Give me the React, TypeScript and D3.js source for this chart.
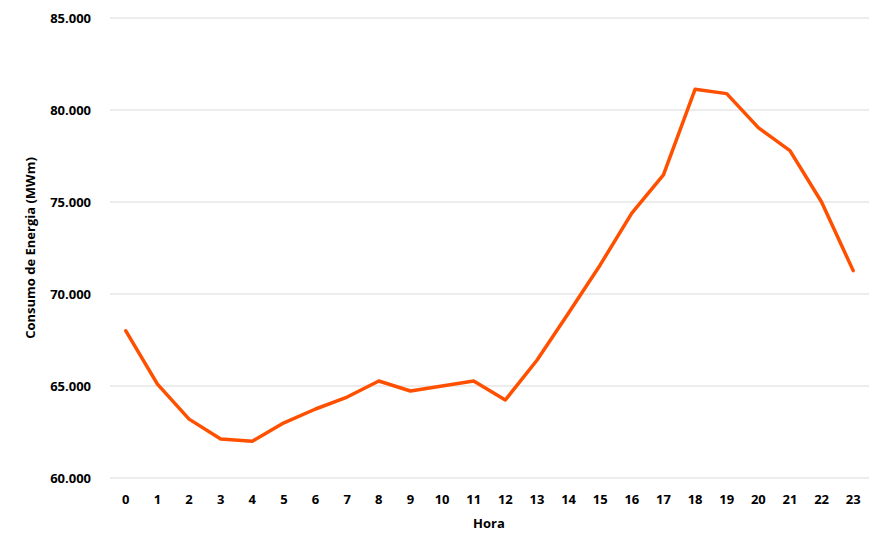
import React from "react";
import * as d3 from "d3";

const hours = Array.from({ length: 24 }, (_, i) => String(i));
const consumo = [
  68000, 65100, 63200, 62120, 62000, 63000, 63750, 64400, 65270, 64730, 65000, 65270,
  64240, 66400, 68970, 71580, 74400, 76470, 81125, 80890, 79040, 77790, 75000, 71270,
];
const yTicks = [60000, 65000, 70000, 75000, 80000, 85000];

const W = 887;
const H = 550;
const left = 110;
const right = 869;
const top = 18;
const bottom = 478;
const font = "'Open Sans', 'Liberation Sans', sans-serif";

export default function App() {
  const x = d3.scaleBand<string>().domain(hours).range([left, right]);
  const y = d3.scaleLinear().domain([60000, 85000]).range([bottom, top]);
  const fmt = (v: number) => d3.format(",")(v).replace(/,/g, ".");
  const line = d3
    .line<number>()
    .x((_, i) => (x(hours[i]) as number) + x.bandwidth() / 2)
    .y((d) => y(d));

  return (
    <svg width={W} height={H} style={{ position: "absolute", left: 0, top: 0, background: "#fff" }}>
      {yTicks.map((t) => (
        <g key={t}>
          <line x1={left} x2={right} y1={y(t)} y2={y(t)} stroke="#d9d9d9" strokeWidth={1} />
          <text x={91} y={y(t)} dy="0.35em" textAnchor="end" fontFamily={font} fontWeight="bold" fontSize={13} fill="#000">
            {fmt(t)}
          </text>
        </g>
      ))}
      {hours.map((h) => (
        <text key={h} x={(x(h) as number) + x.bandwidth() / 2} y={499} dy="0.35em" textAnchor="middle" fontFamily={font} fontWeight="bold" fontSize={13} fill="#000">
          {h}
        </text>
      ))}
      <path d={line(consumo) ?? ""} fill="none" stroke="#ff5000" strokeWidth={3.5} strokeLinejoin="round" strokeLinecap="round" />
      <text x={489} y={523} dy="0.35em" textAnchor="middle" fontFamily={font} fontWeight="bold" fontSize={13} fill="#000">
        Hora
      </text>
      <text transform={`translate(30, 248) rotate(-90)`} dy="0.35em" textAnchor="middle" fontFamily={font} fontWeight="bold" fontSize={13} fill="#000">
        Consumo de Energia (MWm)
      </text>
    </svg>
  );
}
